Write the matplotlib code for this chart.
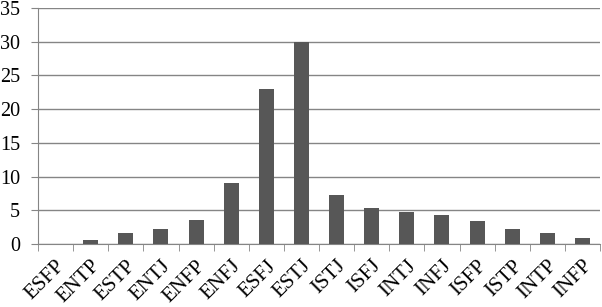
import matplotlib.pyplot as plt
import numpy as np

plt.rcParams['font.family'] = ['Liberation Serif', 'DejaVu Serif']

types = ['ESFP', 'ENTP', 'ESTP', 'ENTJ', 'ENFP', 'ENFJ', 'ESFJ', 'ESTJ',
         'ISTJ', 'ISFJ', 'INTJ', 'INFJ', 'ISFP', 'ISTP', 'INTP', 'INFP']
percent = [0, 0.6, 1.7, 2.2, 3.6, 9.0, 23.0, 30.0,
           7.3, 5.3, 4.75, 4.25, 3.4, 2.2, 1.7, 0.9]

fig = plt.figure(figsize=(6.02, 3.07), dpi=100)
ax = fig.add_axes([38 / 602, 63 / 307, 562 / 602, 236 / 307])

x = np.arange(len(types))
ax.bar(x, percent, width=0.43, color='#575757', zorder=3)

ax.set_xlim(-0.5, len(types) - 0.5)
ax.set_ylim(0, 35)
ax.set_yticks(range(0, 36, 5))
ax.yaxis.grid(True, color='#858585', linewidth=1.0, zorder=0)

ax.set_xticks(x)
ax.set_xticklabels(types, rotation=45, ha='right', rotation_mode='anchor')
ax.set_xticks(np.arange(-0.5, len(types), 1), minor=True)
ax.tick_params(axis='x', which='major', length=0, pad=9, labelsize=15)
ax.tick_params(axis='x', which='minor', length=5, color='#858585', direction='out')
ax.tick_params(axis='y', length=5, color='#858585', labelsize=14.5, pad=8)

for s in ['top', 'right']:
    ax.spines[s].set_visible(False)
ax.spines['left'].set_color('#858585')
ax.spines['bottom'].set_color('#858585')

fig.savefig('out.png', dpi=100)
